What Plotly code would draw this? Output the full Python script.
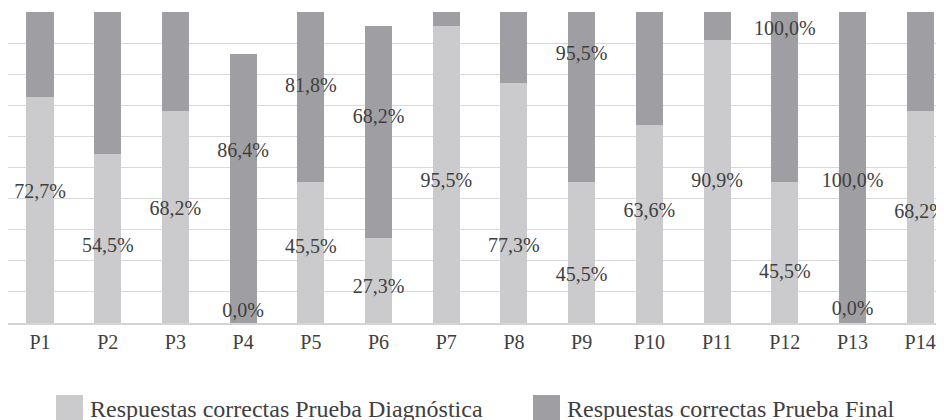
"""stacked bars: correct answers per question, diagnostic vs final test"""

import plotly.graph_objects as go

preguntas = ["P1", "P2", "P3", "P4", "P5", "P6", "P7",
             "P8", "P9", "P10", "P11", "P12", "P13", "P14"]

# % respuestas correctas
diagnostica = [72.7, 54.5, 68.2, 0.0, 45.5, 27.3, 95.5,
               77.3, 45.5, 63.6, 90.9, 45.5, 0.0, 68.2]
# values hidden above the chart top are estimated
final = [90.9, 86.4, 95.5, 86.4, 81.8, 68.2, 100.0,
         90.9, 95.5, 95.5, 100.0, 100.0, 100.0, 90.9]

# where the data labels sit (in % units), None = label not visible
label_y_diag = [41.8, 24.4, 36.3, 3.5, 24.1, 11.3, 45.3,
                24.4, 15.1, 35.7, 45.3, 16.1, 4.2, 35.4]
label_y_final = [None, None, None, 55.0, 75.9, 65.9, None,
                 None, 86.2, None, None, 94.2, 45.3, None]

FONT = "Liberation Serif"
TXT = "#404040"
LIGHT = "#cbcbcd"
DARK = "#9f9fa3"

W, H = 944, 420
ML, MT, MB = 0, 4, 105  # plot area: x 0..944, y 4..315


def fmt(v):
    return f"{v:.1f}%".replace(".", ",")


fig = go.Figure()
fig.add_trace(go.Bar(
    name="Respuestas correctas Prueba Diagnóstica",
    x=preguntas, y=diagnostica,
    marker=dict(color=LIGHT, line=dict(width=0)),
))
fig.add_trace(go.Bar(
    name="Respuestas correctas Prueba Final",
    x=preguntas, y=final,
    marker=dict(color=DARK, line=dict(width=0)),
))

# data labels
lx, ly, lt = [], [], []
for p, v, y in zip(preguntas, diagnostica, label_y_diag):
    lx.append(p)
    ly.append(y)
    lt.append(fmt(v))
for p, v, y in zip(preguntas, final, label_y_final):
    if y is not None:
        lx.append(p)
        ly.append(y)
        lt.append(fmt(v))

fig.add_trace(go.Scatter(
    x=lx, y=ly, text=lt, mode="text",
    textfont=dict(family=FONT, size=20, color=TXT),
    hoverinfo="skip", showlegend=False, cliponaxis=False,
))

fig.update_layout(
    barmode="stack",
    bargap=0.6,
    width=W,
    height=H,
    plot_bgcolor="white",
    paper_bgcolor="white",
    margin=dict(l=ML, r=0, t=MT, b=MB),
    showlegend=False,
    font=dict(family=FONT, size=20, color=TXT),
)

fig.update_xaxes(
    range=[-0.473, 13.47],
    showline=True,
    linecolor="#d4d4d4",
    linewidth=2,
    showgrid=False,
    ticks="",
    tickfont=dict(family=FONT, size=20, color=TXT),
)
fig.update_yaxes(
    range=[0, 100],
    dtick=10,
    showgrid=True,
    gridcolor="#d9d9d9",
    gridwidth=1,
    showticklabels=False,
    zeroline=False,
)

# hand-made legend below the plot (pixel positions in figure space)
plot_w = W - ML
plot_h = H - MT - MB


def px_x(v):
    return (v - ML) / plot_w


def px_y(v):
    return (H - MB - v) / plot_h


legend_items = [
    (LIGHT, "Respuestas correctas Prueba Diagnóstica", 48),
    (DARK, "Respuestas correctas Prueba Final", 525),
]
for col, label, left in legend_items:
    fig.add_shape(
        type="rect", xref="paper", yref="paper",
        x0=px_x(left), x1=px_x(left + 27),
        y0=px_y(387), y1=px_y(413),
        fillcolor=col, line=dict(width=0),
    )
    fig.add_annotation(
        xref="paper", yref="paper",
        x=px_x(left + 32), y=px_y(401),
        xanchor="left", yanchor="middle", showarrow=False,
        text=label, font=dict(family=FONT, size=24, color=TXT),
    )

fig.write_html("out.html")
